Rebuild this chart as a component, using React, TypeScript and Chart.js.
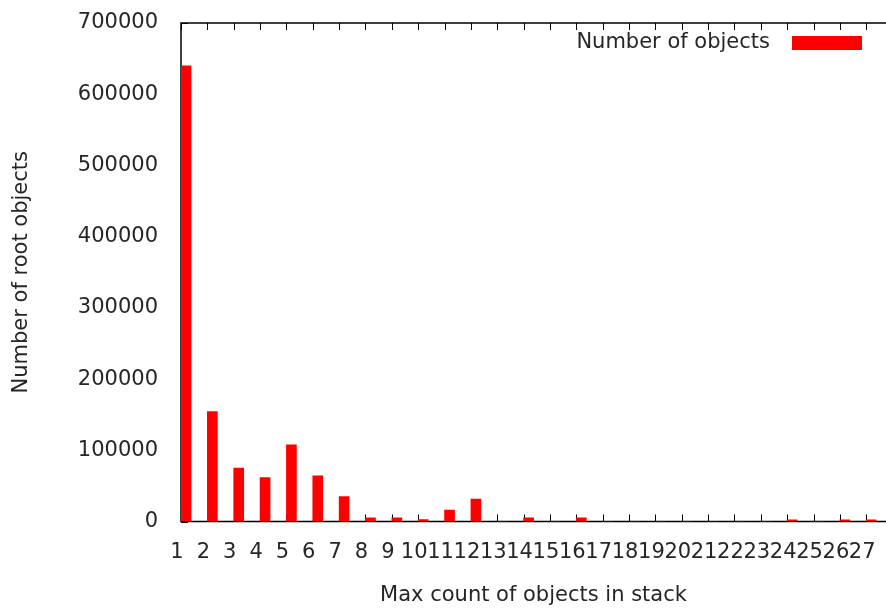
import { useEffect, useRef } from 'react';
import { Chart, registerables } from 'chart.js';

Chart.register(...registerables);

// Max count of objects in stack
const categories = [1, 2, 3, 4, 5, 6, 7, 8, 9, 10, 11, 12, 13, 14, 15, 16, 17, 18, 19, 20, 21, 22, 23, 24, 25, 26, 27];
// Number of root objects
const counts = [640000, 154400, 75000, 61800, 107600, 64100, 35100, 5000, 5000, 2600, 16000, 31400, 0, 5000, 0, 5000, 0, 0, 0, 0, 0, 0, 0, 2500, 0, 2500, 2500];
const spacer = categories.map(() => 0);
const yTickValues = [0, 100000, 200000, 300000, 400000, 500000, 600000, 700000];

const seriesLabel = 'Number of objects';
const xTitle = 'Max count of objects in stack';
const yTitle = 'Number of root objects';

const FONT = '"DejaVu Sans", sans-serif';
const FS = 21;
const TXT = '#262626';

const framePlugin = {
  id: 'frame',
  beforeDatasetsDraw(chart: any) {
    const { ctx, chartArea, scales } = chart;
    const { left, right, top, bottom } = chartArea;
    const x = scales.x;
    const y = scales.y;
    ctx.save();
    ctx.strokeStyle = '#000';
    ctx.lineWidth = 1;
    ctx.beginPath();
    for (const c of categories) {
      const px = Math.round(x.getPixelForValue(c)) + 0.5;
      ctx.moveTo(px, bottom);
      ctx.lineTo(px, bottom - 7);
      ctx.moveTo(px, top);
      ctx.lineTo(px, top + 7);
    }
    for (const v of yTickValues) {
      const py = Math.round(y.getPixelForValue(v)) + 0.5;
      ctx.moveTo(left, py);
      ctx.lineTo(left + 7, py);
    }
    ctx.stroke();
    ctx.lineWidth = 1.5;
    ctx.strokeStyle = '#000';
    ctx.beginPath();
    ctx.moveTo(right + 2, top);
    ctx.lineTo(left, top);
    ctx.lineTo(left, bottom);
    ctx.lineTo(right + 2, bottom);
    ctx.stroke();
    ctx.restore();
  },
  afterDatasetsDraw(chart: any) {
    const { ctx } = chart;
    ctx.save();
    ctx.font = `${FS}px ${FONT}`;
    ctx.fillStyle = TXT;
    ctx.textAlign = 'right';
    ctx.textBaseline = 'middle';
    ctx.fillText(seriesLabel, 770, 43);
    ctx.fillStyle = '#ff0000';
    ctx.fillRect(792, 36, 70, 14);
    ctx.restore();
  },
};

export default function App() {
  const ref = useRef<HTMLCanvasElement>(null);
  useEffect(() => {
    if (!ref.current) return;
    const chart = new Chart(ref.current, {
      type: 'bar',
      data: {
        datasets: [
          {
            label: 'spacer',
            data: categories.map((c, i) => ({ x: c, y: spacer[i] })),
            backgroundColor: 'rgba(0,0,0,0)',
            borderWidth: 0,
            barThickness: 10,
          },
          {
            label: seriesLabel,
            data: categories.map((c, i) => ({ x: c, y: counts[i] })),
            backgroundColor: '#ff0000',
            borderWidth: 0,
            barThickness: 10,
          },
        ],
      },
      options: {
        animation: false,
        responsive: false,
        events: [],
        layout: { padding: { top: 23, right: 0, bottom: 0, left: 0 } },
        plugins: { legend: { display: false }, tooltip: { enabled: false } },
        scales: {
          x: {
            type: 'linear',
            min: 1,
            max: 27.75,
            offset: false,
            grid: { display: false },
            border: { display: false },
            afterFit: (s: any) => {
              s.height = 88.5;
              s.paddingLeft = 0;
              s.paddingRight = 0;
            },
            ticks: {
              stepSize: 1,
              includeBounds: false,
              autoSkip: false,
              maxRotation: 0,
              minRotation: 0,
              padding: 10,
              labelOffset: -4,
              color: TXT,
              font: { family: FONT, size: FS },
              callback: (v: any) => String(v),
            },
            title: {
              display: true,
              text: xTitle,
              color: TXT,
              font: { family: FONT, size: FS },
              padding: { top: 0, bottom: 2 },
            },
          },
          y: {
            min: 0,
            max: 700000,
            grid: { display: false, drawTicks: false },
            border: { display: false },
            afterFit: (s: any) => {
              s.width = 181;
              s.paddingTop = 0;
              s.paddingBottom = 0;
            },
            ticks: {
              stepSize: 100000,
              padding: 23,
              color: TXT,
              font: { family: FONT, size: FS },
              callback: (v: any) => String(v),
            },
            title: {
              display: true,
              text: yTitle,
              color: TXT,
              font: { family: FONT, size: FS },
              padding: { top: 9, bottom: 0 },
            },
          },
        },
      },
      plugins: [framePlugin],
    });
    return () => chart.destroy();
  }, []);
  return (
    <div style={{ position: 'absolute', left: 0, top: 0, width: 886, height: 610 }}>
      <canvas ref={ref} width={886} height={610} />
    </div>
  );
}
